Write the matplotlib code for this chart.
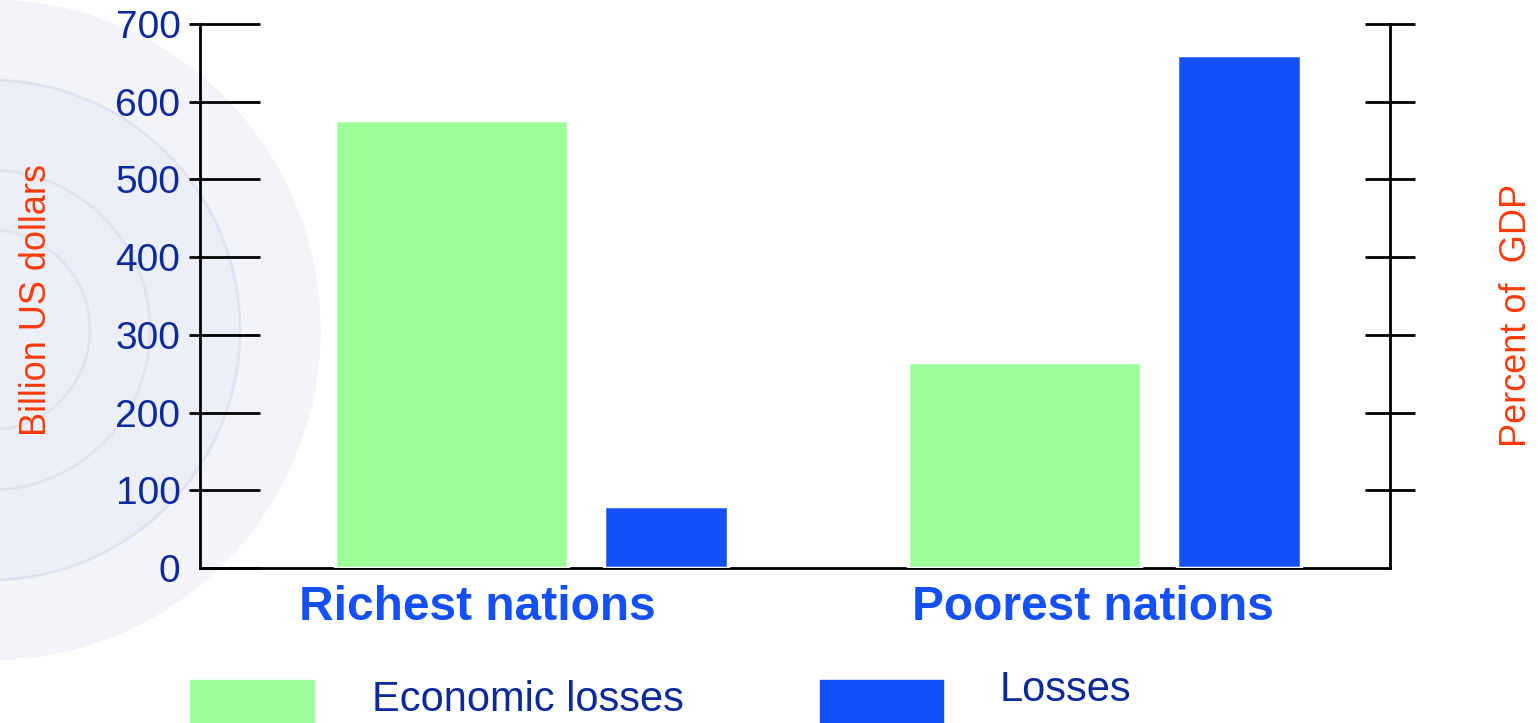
import matplotlib
matplotlib.use("Agg")
import matplotlib.pyplot as plt
import matplotlib.patches as mpatches

# data
categories = ["Richest nations", "Poorest nations"]
economic_losses = [577, 265]
losses = [80, 660]
yticks = [0, 100, 200, 300, 400, 500, 600, 700]

green = "#9EFF9A"
blue = "#1450FA"
tick_col = "#0C2A9C"
label_col = "#FF3A0A"

plt.rcParams["font.family"] = ["Liberation Sans", "DejaVu Sans"]

W, H = 1538, 723
fig = plt.figure(figsize=(15.38, 7.23), dpi=100)


def circ(cx, cy, r, **kw):
    return mpatches.Ellipse((cx / W, 1 - cy / H), 2 * r / W, 2 * r / H,
                            transform=fig.transFigure, zorder=-5, **kw)


# faint emblem watermark in the background (left side)
fig.patches.append(circ(-10, 330, 330, color="#F3F4FA"))
fig.patches.append(circ(-10, 330, 250, color="#EDEFF8"))
for r in (100, 160, 250):
    fig.patches.append(circ(-10, 330, r, fill=False, edgecolor="#DFE2F0",
                            linewidth=2))

ax = fig.add_axes([0.1300, 0.2144, 0.7738, 0.7524])
ax.patch.set_alpha(0)

x = range(len(categories))
ax.bar([i - 0.14 for i in x], economic_losses, width=0.405, color=green,
       edgecolor="white", linewidth=2.5, zorder=3)
ax.bar([i + 0.235 for i in x], losses, width=0.216, color=blue,
       edgecolor="white", linewidth=2.5, zorder=3)

ax.set_xlim(-0.579, 1.498)
ax.set_ylim(0, 700)
ax.set_yticks(yticks)
ax.set_yticklabels([str(v) for v in yticks], fontsize=28, color=tick_col)
ax.tick_params(axis="y", direction="in", length=43, width=2, pad=14)
ax.yaxis.get_major_ticks()[0].tick1line.set_visible(False)
ax.set_xticks([])
ax.spines["top"].set_visible(False)
ax.spines["right"].set_visible(False)
ax.spines["left"].set_linewidth(2)
ax.spines["bottom"].set_linewidth(2)

# short tick stubs outside the left axis
ax3 = ax.twinx()
ax3.set_ylim(0, 700)
ax3.yaxis.set_ticks_position("left")
ax3.set_yticks(yticks[1:])
ax3.set_yticklabels([])
ax3.tick_params(axis="y", direction="out", length=8, width=2)
for s in ax3.spines.values():
    s.set_visible(False)

# right axis, ticks only
ax2 = ax.twinx()
ax2.set_ylim(0, 700)
ax2.set_yticks(yticks[1:])
ax2.set_yticklabels([])
ax2.tick_params(axis="y", direction="inout", length=36, width=2)
for s in ["top", "left", "bottom"]:
    ax2.spines[s].set_visible(False)
ax2.spines["right"].set_linewidth(2)

fig.text(37 / W, 1 - 300 / H, "Billion US dollars", rotation=90,
         fontsize=26, color=label_col, ha="center", va="center")
fig.text(1517 / W, 1 - 315 / H, "Percent of  GDP", rotation=90,
         fontsize=26, color=label_col, ha="center", va="center")

# category labels
for xf, c in zip([0.233, 0.750], categories):
    ax.text(xf, -0.072, c, fontsize=34.5, fontweight="bold", color=blue,
            ha="center", va="center", transform=ax.transAxes)

# legend
fig.patches.append(mpatches.Rectangle((190 / W, 0), 124 / W, 43 / H,
                                      transform=fig.transFigure, color=green))
fig.patches.append(mpatches.Rectangle((820 / W, 0), 123 / W, 43 / H,
                                      transform=fig.transFigure, color=blue))
fig.text(372 / W, 1 - 700 / H, "Economic losses", fontsize=30,
         color=tick_col, va="center", ha="left")
fig.text(1000 / W, 1 - 690 / H, "Losses", fontsize=30,
         color=tick_col, va="center", ha="left")

fig.savefig("out.png", dpi=100)
